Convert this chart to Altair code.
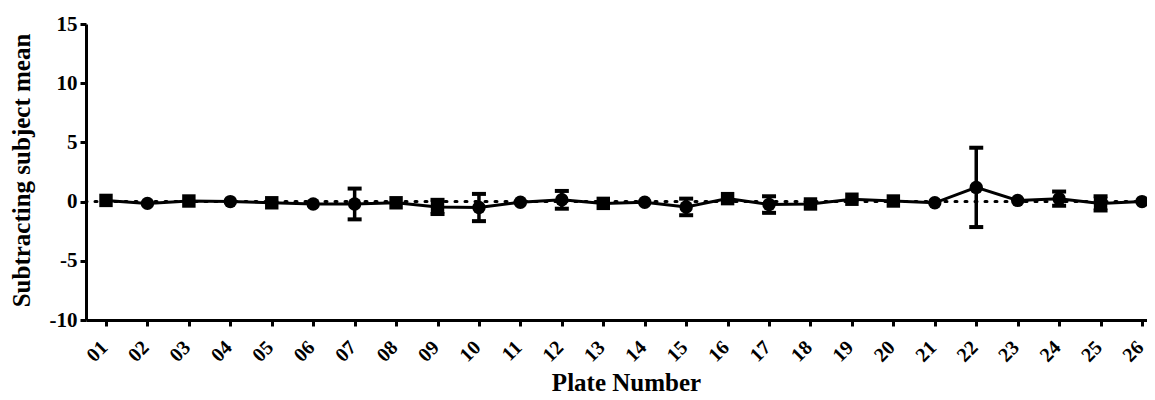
import altair as alt
import pandas as pd

plates = ["01", "02", "03", "04", "05", "06", "07", "08", "09", "10", "11", "12", "13",
          "14", "15", "16", "17", "18", "19", "20", "21", "22", "23", "24", "25", "26"]
means = [0.10, -0.15, 0.05, 0.00, -0.10, -0.20, -0.20, -0.10, -0.45, -0.50, -0.05, 0.15, -0.15,
         -0.05, -0.45, 0.25, -0.25, -0.20, 0.20, 0.05, -0.10, 1.20, 0.10, 0.25, -0.15, 0.00]
errs = [0.0, 0.0, 0.0, 0.0, 0.0, 0.0, 1.30, 0.0, 0.60, 1.15, 0.0, 0.75, 0.0,
        0.0, 0.70, 0.0, 0.70, 0.0, 0.0, 0.0, 0.0, 3.35, 0.0, 0.60, 0.60, 0.0]
shapes = ["square", "circle", "square", "circle", "square", "circle", "circle", "square", "square",
          "circle", "circle", "circle", "square", "circle", "circle", "square", "circle", "square",
          "square", "square", "circle", "circle", "circle", "circle", "square", "circle"]
y_ticks = [-10, -5, 0, 5, 10, 15]

df = pd.DataFrame({"plate": plates, "mean": means, "err": errs, "shape": shapes})
df["lo"] = df["mean"] - df["err"]
df["hi"] = df["mean"] + df["err"]

FONT = "Liberation Serif"

x_enc = alt.X("plate:N", sort=plates,
              scale=alt.Scale(type="point", padding=0.3016, align=0.8),
              axis=alt.Axis(title="Plate Number", labelAngle=-45, labelAlign="right",
                            labelBaseline="middle", labelFontSize=20, labelFont=FONT,
                            labelFontWeight="bold", labelPadding=18, labelColor="black",
                            labelOffset=-2, grid=False,
                            tickSize=6, tickWidth=3, tickColor="black",
                            domainWidth=3, domainColor="black",
                            titleFont=FONT, titleFontSize=25, titleFontWeight="bold",
                            titleColor="black", titleX=540, titleY=70,
                            titleBaseline="alphabetic"))

y_scale = alt.Scale(domain=[-10, 15], nice=False, zero=False)
y_axis = alt.Axis(title="Subtracting subject mean", values=y_ticks, grid=False,
                  labelExpr="'' + datum.value",
                  labelFontSize=21, labelFont=FONT, labelFontWeight="bold", labelColor="black",
                  labelPadding=3, tickSize=6, tickWidth=3, tickColor="black",
                  domainWidth=3, domainColor="black",
                  titleFont=FONT, titleFontSize=25, titleFontWeight="bold", titleColor="black",
                  titleX=-52, titleY=146)

base = alt.Chart(df)

zero_line = alt.Chart(pd.DataFrame({"z": [0]})).mark_rule(
    color="black", strokeWidth=3, strokeDash=[2, 8], strokeCap="round"
).encode(y=alt.Y("z:Q", scale=y_scale, axis=y_axis))

line = base.mark_line(color="black", strokeWidth=3).encode(
    x=x_enc, y=alt.Y("mean:Q", scale=y_scale, axis=y_axis))

err_df = base.transform_filter("datum.err > 0")
bars = err_df.mark_rule(color="black", strokeWidth=3.5, opacity=1).encode(
    x=x_enc, y=alt.Y("lo:Q", scale=y_scale, axis=y_axis), y2="hi:Q")
cap_lo = err_df.mark_tick(color="black", thickness=4, size=14, orient="horizontal",
                          opacity=1).encode(
    x=x_enc, y=alt.Y("lo:Q", scale=y_scale, axis=y_axis))
cap_hi = err_df.mark_tick(color="black", thickness=4, size=14, orient="horizontal",
                          opacity=1).encode(
    x=x_enc, y=alt.Y("hi:Q", scale=y_scale, axis=y_axis))

points = base.mark_point(filled=True, color="black", opacity=1, size=180).encode(
    x=x_enc, y=alt.Y("mean:Q", scale=y_scale, axis=y_axis),
    shape=alt.Shape("shape:N", scale=alt.Scale(domain=["square", "circle"],
                                               range=["square", "circle"]), legend=None))

chart = alt.layer(zero_line, line, bars, cap_lo, cap_hi, points).properties(
    width=1061, height=296,
    background="white",
    autosize=alt.AutoSizeParams(type="none"),
    padding={"left": 78, "top": 16, "right": 0, "bottom": 76},
).configure_view(stroke=None).configure_axis(grid=False)

chart.save("out.html", embed_options={"renderer": "svg", "actions": False})
